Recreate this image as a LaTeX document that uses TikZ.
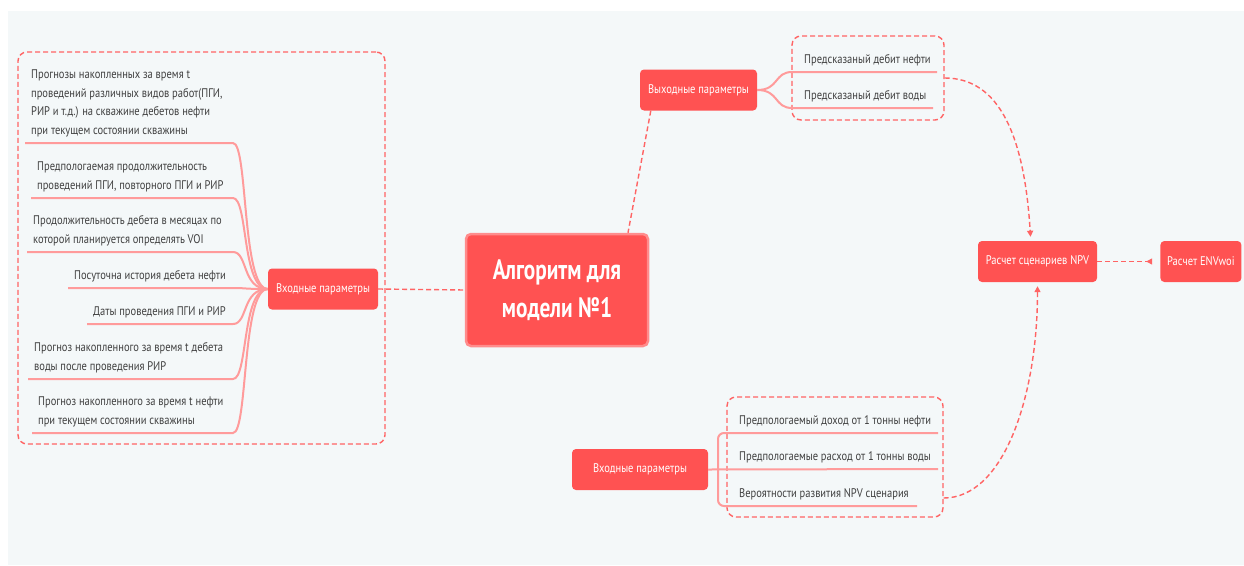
\documentclass[tikz,border=0pt]{standalone}
\usepackage{fontspec}
\setmainfont[FakeStretch=0.84]{PT Sans}
\newfontfamily\titlefont[FakeStretch=0.76]{PT Sans}
\usepackage{tikz}
\usetikzlibrary{arrows.meta,positioning,calc}
\definecolor{mmred}{RGB}{255,82,82}
\definecolor{mmpink}{RGB}{255,155,155}
\definecolor{mmborder}{RGB}{255,140,140}
\definecolor{mmdash}{RGB}{255,100,100}
\definecolor{mmtext}{RGB}{64,64,64}
\definecolor{mmbg}{RGB}{244,248,249}
\tikzset{
  topic/.style={rectangle, rounded corners=4pt, fill=mmred, text=white, inner sep=0pt, minimum height=41pt, font=\fontsize{12.5}{14}\selectfont},
  itemtext/.style={anchor=south west, align=left, text=mmtext, inner sep=0pt, font=\fontsize{12.5}{18.5}\selectfont},
  branch/.style={draw=mmpink, line width=2pt},
  relation/.style={draw=mmdash, line width=1.4pt, dash pattern=on 5pt off 3pt},
  groupbox/.style={draw=mmdash, line width=1.4pt, dash pattern=on 5pt off 3pt, rounded corners=9pt, inner sep=0pt},
  reltip/.style={-{Triangle[length=6pt,width=6pt]}}
}

\begin{document}
\begin{tikzpicture}[x=1pt,y=-1pt]
\useasboundingbox (0,0) rectangle (1244,565);
\fill[mmbg] (8,11) rectangle (1244,565);

% group frames
\node[groupbox, minimum width=367pt, minimum height=392pt] (lbox) at (201.5,248) {};
\node[groupbox, minimum width=152pt, minimum height=84pt] (rbox) at (868,78) {};
\node[groupbox, minimum width=216pt, minimum height=120pt] (bbox) at (835,457) {};

% main topics
\node[topic, fill=mmred, draw=mmborder, line width=2.5pt, rounded corners=5pt, minimum width=182pt, minimum height=112pt, align=center,
  font=\titlefont\bfseries\fontsize{28}{38}\selectfont] (algo) at (557,290) {Алгоритм для\\модели №1};
\node[topic, minimum width=110pt] (in1) at (323,289) {Входные параметры};
\node[topic, minimum width=117pt] (out) at (698.5,90) {Выходные параметры};
\node[topic, minimum width=136pt] (in2) at (640,469.5) {Входные параметры};
\node[topic, minimum width=119pt] (npv) at (1037.5,261.5) {Расчет сценариев NPV};
\node[topic, minimum width=81pt, right=63pt of npv] (env) {Расчет ENVwoi};

% left items
\coordinate (bend) at (233,0);
\coordinate (u1) at (25,143);
\coordinate (u2) at (31,198);
\coordinate (u3) at (27,252);
\coordinate (u4) at (68,288);
\coordinate (u5) at (87,324);
\coordinate (u6) at (28,379);
\coordinate (u7) at (32,433);
\node[itemtext] (l1) at ($(u1)+(6,-6)$) {Прогнозы накопленных за время t\\проведений различных видов работ(ПГИ,\\РИР и т.д.) на скважине дебетов нефти\\при текущем состоянии скважины};
\node[itemtext] (l2) at ($(u2)+(6,-6)$) {Предпологаемая продолжительность\\проведений ПГИ, повторного ПГИ и РИР};
\node[itemtext] (l3) at ($(u3)+(6,-6)$) {Продолжительность дебета в месяцах по\\которой планируется определять VOI};
\node[itemtext] (l4) at ($(u4)+(6,-6)$) {Посуточна история дебета нефти};
\node[itemtext] (l5) at ($(u5)+(6,-6)$) {Даты проведения ПГИ и РИР};
\node[itemtext] (l6) at ($(u6)+(6,-6)$) {Прогноз накопленного за время t дебета\\воды после проведения РИР};
\node[itemtext] (l7) at ($(u7)+(6,-6)$) {Прогноз накопленного за время t нефти\\при текущем состоянии скважины};
\foreach \i in {1,...,7}
  \draw[branch] (u\i) -- (u\i -| bend) .. controls +(15,0) and +(-26,0) .. (in1.west);

% output items
\coordinate (r1) at (792,72);
\coordinate (r2) at (792,108);
\node[itemtext] (o1) at ($(r1)+(12,-6)$) {Предсказаный дебит нефти};
\node[itemtext] (o2) at ($(r2)+(12,-6)$) {Предсказаный дебит воды};
\draw[branch] (out.east) .. controls +(22,0) and +(-18,0) .. (r1) -- (937,72);
\draw[branch] (out.east) .. controls +(22,0) and +(-18,0) .. (r2) -- (933,108);

% lower input items
\coordinate (b1) at (938,433);
\coordinate (b2) at (938,469);
\coordinate (b3) at (917,506);
\node[itemtext] (i1) at (739,427) {Предпологаемый доход от 1 тонны нефти};
\node[itemtext] (i2) at (739,463) {Предпологаемые расход от 1 тонны воды};
\node[itemtext] (i3) at (739,500) {Вероятности развития NPV сценария};
\draw[branch] (in2.east) -- (b2);
\draw[branch, rounded corners=6pt] (718,469) |- (b1);
\draw[branch, rounded corners=6pt] (718,469) |- (b3);

% relations
\draw[relation] (in1.east) -- (algo.west);
\draw[relation] ($(out.south west)+(11,0)$) -- ($(algo.north)+(71,0)$);
\draw[relation, reltip] (rbox.east) .. controls +(55,0) and +(-6,-100) .. ($(npv.north)+(-7,-4)$);
\draw[relation, reltip] ($(bbox.east)+(0,41)$) .. controls +(60,0) and +(0,110) .. ($(npv.south)+(0,4)$);
\draw[relation, -{Triangle[reversed,length=6pt,width=6pt]}] (npv.east) -- ($(env.west)+(-8,0)$);
\end{tikzpicture}
\end{document}
